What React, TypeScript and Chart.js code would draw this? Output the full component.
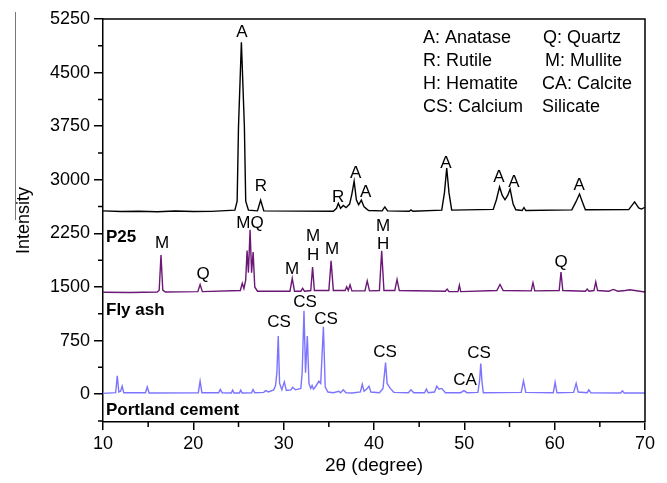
import React, { useEffect, useRef } from 'react';
import { Chart, registerables } from 'chart.js';

Chart.register(...registerables);

const FONT = '"Liberation Sans", Arial, Helvetica, sans-serif';

// 2θ (degree) vs intensity
const p25Points: [number, number][] = [
  [10, 2565], [12, 2555], [14, 2560], [16, 2552], [18, 2562], [20, 2555], [22, 2558], [24.6, 2575],
  [24.85, 2700], [25.0, 3750], [25.32, 4925], [25.65, 3750], [25.8, 2700], [26.1, 2575],
  [27.1, 2565], [27.3, 2650], [27.45, 2715], [27.6, 2650], [27.8, 2565],
  [35.5, 2560], [35.85, 2600], [36.05, 2670], [36.3, 2600], [36.6, 2640], [36.9, 2610],
  [37.3, 2660], [37.55, 2800], [37.8, 2980], [38.05, 2720], [38.3, 2650], [38.6, 2715],
  [38.9, 2620], [39.4, 2570], [40.9, 2565], [41.2, 2620], [41.5, 2565], [43.9, 2560],
  [44.1, 2578], [44.3, 2560], [47.5, 2575], [47.8, 2820], [48.05, 3165], [48.3, 2820],
  [48.6, 2575], [53.2, 2585], [53.55, 2720], [53.9, 2900], [54.2, 2780], [54.5, 2720],
  [54.8, 2780], [55.07, 2870], [55.4, 2660], [55.7, 2580], [56.4, 2570], [56.6, 2612],
  [56.8, 2570], [61.9, 2578], [62.35, 2690], [62.75, 2800], [63.1, 2680], [63.4, 2580],
  [68.2, 2582], [68.85, 2690], [69.3, 2605], [69.6, 2590], [70, 2615],
];

const flyAshPoints: [number, number][] = [
  [10, 1425], [13, 1422], [16, 1430], [16.22, 1455], [16.42, 1945], [16.62, 1455], [16.9, 1430],
  [20.5, 1435], [20.75, 1535], [21.0, 1435], [25.2, 1450], [25.42, 1552], [25.6, 1480],
  [25.8, 1600], [25.95, 2010], [26.1, 1700], [26.28, 2300], [26.45, 1700], [26.62, 1990],
  [26.8, 1500], [27.1, 1440], [30.7, 1440], [30.95, 1620], [31.2, 1440], [31.9, 1440],
  [32.1, 1480], [32.3, 1440], [33.0, 1450], [33.2, 1780], [33.4, 1450], [35.0, 1450],
  [35.25, 1865], [35.5, 1450], [36.8, 1450], [36.98, 1502], [37.15, 1450], [37.35, 1530],
  [37.55, 1445], [39.0, 1445], [39.25, 1585], [39.5, 1445], [40.6, 1450], [40.85, 2005],
  [41.1, 1450], [42.3, 1450], [42.55, 1605], [42.8, 1450], [47.9, 1440], [48.1, 1470],
  [48.3, 1435], [49.3, 1435], [49.45, 1525], [49.6, 1435], [53.6, 1450], [53.95, 1535],
  [54.3, 1450], [57.4, 1445], [57.6, 1560], [57.8, 1445], [60.5, 1450], [60.7, 1710],
  [60.9, 1450], [63.4, 1440], [63.6, 1470], [63.8, 1440], [64.35, 1450], [64.55, 1570],
  [64.75, 1450], [66.0, 1440], [66.5, 1465], [67.0, 1440], [67.8, 1450], [68.3, 1460], [70, 1430],
];

const portlandPoints: [number, number][] = [
  [10, 10], [11.4, 20], [11.58, 255], [11.75, 30], [11.95, 40], [12.12, 112], [12.3, 20],
  [14.7, 20], [14.9, 100], [15.1, 15], [20.55, 20], [20.75, 182], [20.95, 20], [22.8, 20],
  [22.98, 66], [23.2, 20], [24.2, 15], [24.35, 55], [24.5, 15], [25.1, 15], [25.25, 55],
  [25.4, 15], [26.45, 20], [26.6, 65], [26.8, 20], [27.8, 25], [28.0, 50], [28.3, 30],
  [28.9, 60], [29.1, 120], [29.25, 300], [29.4, 812], [29.55, 150], [29.8, 60], [30.07, 172],
  [30.3, 50], [30.8, 60], [31.0, 95], [31.3, 60], [31.9, 80], [32.05, 300], [32.25, 1166],
  [32.42, 300], [32.62, 812], [32.8, 150], [33.0, 80], [33.15, 120], [33.3, 70], [33.5, 100],
  [33.9, 180], [34.1, 150], [34.4, 942], [34.6, 100], [34.9, 30], [35.5, 20], [36.1, 40],
  [36.3, 20], [36.6, 60], [36.9, 20], [37.6, 15], [38.5, 30], [38.7, 140], [38.9, 40],
  [39.25, 80], [39.45, 112], [39.65, 30], [40.6, 20], [41.0, 80], [41.28, 442], [41.45, 150],
  [41.8, 80], [42.2, 25], [43.8, 20], [44.1, 62], [44.4, 20], [45.6, 20], [45.8, 72],
  [46.0, 20], [46.7, 30], [46.95, 112], [47.2, 70], [47.5, 80], [47.9, 20], [49.6, 20],
  [49.95, 48], [50.3, 20], [51.5, 25], [51.7, 200], [51.82, 428], [51.95, 180], [52.1, 20],
  [56.3, 25], [56.55, 186], [56.8, 25], [59.85, 20], [60.05, 164], [60.25, 20], [62.1, 25],
  [62.38, 150], [62.6, 30], [63.6, 20], [63.78, 60], [64.0, 20], [67.3, 15], [67.5, 45],
  [67.7, 15], [70, 15],
];

const xTickValues = [10, 20, 30, 40, 50, 60, 70];
const xMinorValues = [15, 25, 35, 45, 55, 65];
const yTickValues = [0, 750, 1500, 2250, 3000, 3750, 4500, 5250];
const yMinorValues = [-375, 375, 1125, 1875, 2625, 3375, 4125, 4875];

// peak labels: [text, 2θ, intensity]
const p25Labels: [string, number, number][] = [
  ['A', 25.39, 5068], ['R', 27.49, 2912], ['R', 36.02, 2758], ['A', 37.98, 3094],
  ['A', 39.08, 2828], ['A', 47.97, 3234], ['A', 53.84, 3038], ['A', 55.5, 2968], ['A', 62.7, 2926],
];
const flyAshLabels: [string, number, number][] = [
  ['M', 16.53, 2114], ['Q', 21.07, 1680], ['MQ', 26.27, 2394], ['M', 30.92, 1750],
  ['M', 33.25, 2212], ['H', 33.25, 1946], ['M', 35.35, 2030], ['M', 41.0, 2352],
  ['H', 41.0, 2100], ['Q', 60.7, 1848],
];
const portlandLabels: [string, number, number][] = [
  ['CS', 29.48, 1008], ['CS', 32.36, 1288], ['CS', 34.69, 1050], ['CS', 41.22, 588],
  ['CA', 50.08, 196], ['CS', 51.63, 574],
];

const seriesNames = ['P25', 'Fly ash', 'Portland cement'];
const seriesNameValues = [2198, 1176, -224];
const seriesColors = ['#000000', '#6b1776', '#7c74ff'];

const legendLeft = ['A: Anatase', 'R: Rutile', 'H: Hematite', 'CS: Calcium'];
const legendRight = ['Q: Quartz', 'M: Mullite', 'CA: Calcite', 'Silicate'];
const legendRightOffsets = [1, 3, 0, 0];

const annotationPlugin = {
  id: 'xrdAnnotations',
  afterDatasetsDraw(chart: any) {
    const { ctx, chartArea } = chart;
    const xs = chart.scales.x;
    const ys = chart.scales.y;
    ctx.save();
    // frame top & right
    ctx.strokeStyle = '#000';
    ctx.lineWidth = 1.5;
    ctx.beginPath();
    ctx.moveTo(chartArea.left, chartArea.top);
    ctx.lineTo(chartArea.right, chartArea.top);
    ctx.lineTo(chartArea.right, chartArea.bottom);
    ctx.stroke();
    // minor ticks
    ctx.beginPath();
    yMinorValues.forEach((v) => {
      const py = ys.getPixelForValue(v);
      if (py <= chartArea.bottom + 0.5) {
        ctx.moveTo(chartArea.left - 5, py);
        ctx.lineTo(chartArea.left, py);
      }
    });
    xMinorValues.forEach((v) => {
      const px = xs.getPixelForValue(v);
      ctx.moveTo(px, chartArea.bottom);
      ctx.lineTo(px, chartArea.bottom + 5);
    });
    ctx.stroke();

    // thin grey rule left of the axis title (as in the source figure)
    ctx.strokeStyle = '#777';
    ctx.lineWidth = 1;
    ctx.beginPath();
    ctx.moveTo(15.5, 12);
    ctx.lineTo(15.5, 220);
    ctx.stroke();

    // peak labels
    ctx.fillStyle = '#000';
    ctx.textAlign = 'center';
    ctx.textBaseline = 'middle';
    ctx.font = `17px ${FONT}`;
    [...p25Labels, ...flyAshLabels, ...portlandLabels].forEach(([t, x, y]) => {
      ctx.fillText(t, xs.getPixelForValue(x), ys.getPixelForValue(y));
    });

    // series names
    ctx.textAlign = 'left';
    ctx.font = `bold 17px ${FONT}`;
    seriesNames.forEach((n, i) => {
      ctx.fillText(n, chartArea.left + 3, ys.getPixelForValue(seriesNameValues[i]));
    });

    // legend text block
    ctx.font = `18px ${FONT}`;
    const lx = chartArea.left + 320;
    const rx = chartArea.left + 439;
    legendLeft.forEach((t, i) => {
      ctx.fillText(t, lx, chartArea.top + 19 + i * 23);
    });
    legendRight.forEach((t, i) => {
      ctx.fillText(t, rx + legendRightOffsets[i], chartArea.top + 19 + i * 23);
    });
    ctx.restore();
  },
};

export default function App() {
  const canvasRef = useRef<HTMLCanvasElement | null>(null);

  useEffect(() => {
    if (!canvasRef.current) return;
    const toXY = (pts: [number, number][]) => pts.map(([x, y]) => ({ x, y }));
    const chart = new Chart(canvasRef.current, {
      type: 'line',
      data: {
        datasets: [
          { label: seriesNames[0], data: toXY(p25Points), borderColor: seriesColors[0], borderWidth: 1.4, pointRadius: 0, tension: 0 },
          { label: seriesNames[1], data: toXY(flyAshPoints), borderColor: seriesColors[1], borderWidth: 1.4, pointRadius: 0, tension: 0 },
          { label: seriesNames[2], data: toXY(portlandPoints), borderColor: seriesColors[2], borderWidth: 1.4, pointRadius: 0, tension: 0 },
        ],
      },
      options: {
        animation: false,
        responsive: false,
        devicePixelRatio: 1,
        layout: { padding: { left: 0, right: 22, top: 19, bottom: 0 } },
        plugins: { legend: { display: false }, tooltip: { enabled: false } },
        scales: {
          x: {
            type: 'linear',
            min: 10,
            max: 70,
            afterBuildTicks: (s: any) => { s.ticks = xTickValues.map((v) => ({ value: v })); },
            afterFit: (s: any) => { s.height = 61; },
            grid: { drawOnChartArea: false, drawTicks: true, tickLength: 8, color: '#000', lineWidth: 1.5 },
            border: { display: true, color: '#000', width: 1.5 },
            ticks: { color: '#000', font: { family: FONT, size: 18 }, padding: 3, maxRotation: 0, callback: (v: any) => String(v) },
            title: { display: true, text: '2θ (degree)', color: '#000', font: { family: FONT, size: 19 }, padding: { top: 0, bottom: 6 } },
          },
          y: {
            type: 'linear',
            min: -390,
            max: 5250,
            afterBuildTicks: (s: any) => { s.ticks = yTickValues.map((v) => ({ value: v })); },
            afterFit: (s: any) => { s.width = 103; },
            grid: { drawOnChartArea: false, drawTicks: true, tickLength: 9, color: '#000', lineWidth: 1.5 },
            border: { display: true, color: '#000', width: 1.5 },
            ticks: { color: '#000', font: { family: FONT, size: 18 }, padding: 4, callback: (v: any) => String(v) },
            title: { display: true, text: 'Intensity', color: '#000', font: { family: FONT, size: 18 }, padding: { top: 13, bottom: 0 } },
          },
        },
      },
      plugins: [annotationPlugin],
    } as any);
    return () => chart.destroy();
  }, []);

  return (
    <div style={{ position: 'absolute', left: 0, top: 0, width: 667, height: 483, background: '#fff' }}>
      <canvas ref={canvasRef} width={667} height={483} style={{ display: 'block', width: 667, height: 483 }} />
    </div>
  );
}
